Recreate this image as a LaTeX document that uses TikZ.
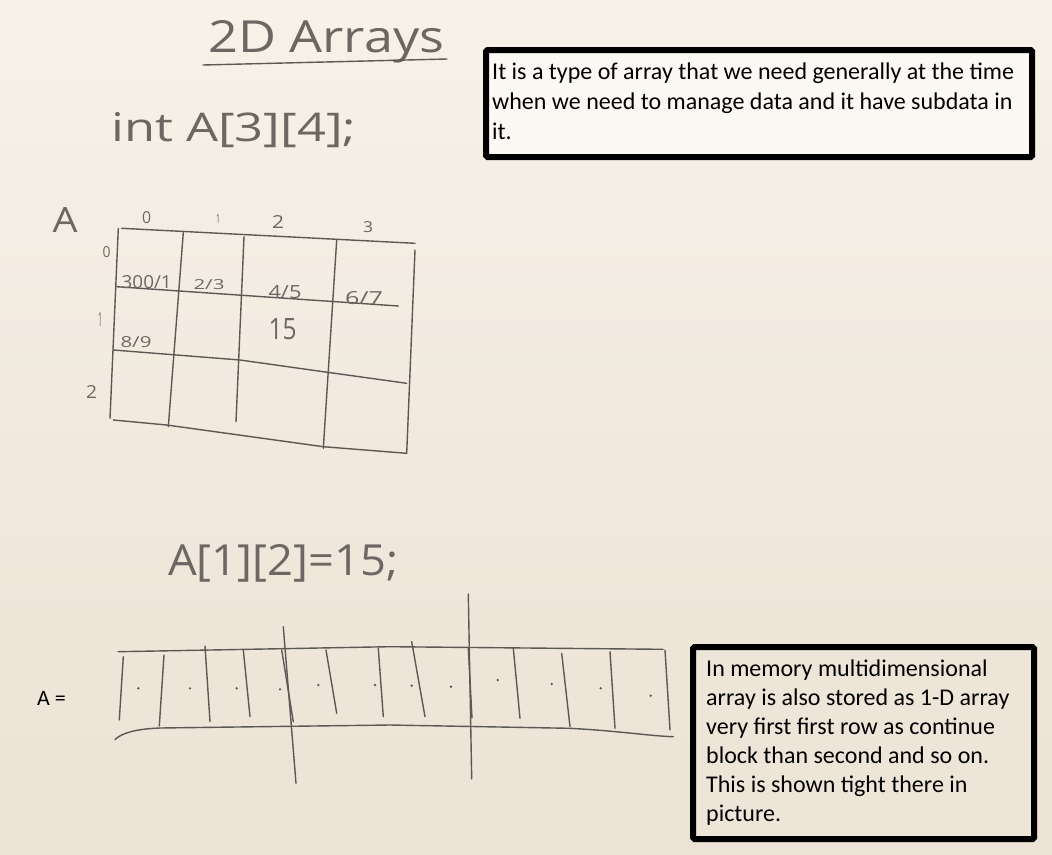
\documentclass[tikz,border=0pt]{standalone}
\usepackage{fontspec}
\setmainfont{Carlito}
\newfontfamily\handfont{Open Sans}

\definecolor{boardtop}{HTML}{F7F1E8}
\definecolor{boardbot}{HTML}{ECE2D5}
\definecolor{ink}{HTML}{5C5854}
\definecolor{handink}{HTML}{6C6762}
\definecolor{notefillA}{HTML}{FCF9F5}
\definecolor{notefillB}{HTML}{EEE5D9}

% marker lettering squeezed into a given width and height
\newcommand\handtext[3]{\resizebox{#1}{#2}{\handfont #3}}

\begin{document}
\begin{tikzpicture}[x=1pt,y=-1pt,
  pen/.style={draw=ink, line width=1.4pt, line cap=round, line join=round},
  hand/.style={inner sep=0pt, text=handink},
  notebox/.style={draw=black, line width=6pt, inner sep=0pt, rounded corners=1.5pt},
  notetext/.style={inner sep=0pt, align=left, anchor=north west},
  dotmark/.style={fill=ink, draw=none, circle, inner sep=0pt, minimum size=2.6pt}]

% whiteboard
\fill[top color=boardtop, bottom color=boardbot] (0,0) rectangle (1052,854);
\useasboundingbox (0,0) rectangle (1052,854);

% heading and declaration
\node[hand, anchor=base west] (title) at (208,52) {\handtext{236pt}{32pt}{2D Arrays}};
\draw[pen] (203,65) -- (447,59);
\node[hand, anchor=base west] (decl) at (111,141) {\handtext{245pt}{29pt}{int A[3][4];}};

% the 3x4 table
\node[hand] (arrname) at (65,220) {\handtext{25pt}{25pt}{A}};
\node[hand] (c0) at (146.7,217.5) {\handtext{9pt}{12pt}{0}};
\node[hand] (c1) at (218,219) {\handtext{4pt}{9pt}{1}};
\node[hand] (c2) at (278,222) {\handtext{12pt}{13pt}{2}};
\node[hand] (c3) at (368,227) {\handtext{10pt}{11pt}{3}};
\node[hand] (r0) at (106.7,252.5) {\handtext{8pt}{11pt}{0}};
\node[hand] (r1) at (100,319) {\handtext{4pt}{14pt}{1}};
\node[hand] (r2) at (91.7,391.7) {\handtext{11pt}{13pt}{2}};

\draw[pen] (121.7,228.3) -- (415,243.3);
\draw[pen] (116.7,286.7) -- (398.3,306);
\draw[pen] (113.3,350) -- (240,360) -- (323.3,371.7) -- (406.7,383.3);
\draw[pen] (113.3,420) -- (166.7,425) -- (323.3,446.7) -- (406.7,453.3);
\draw[pen] (118.3,228.3) -- (110,418.3);
\draw[pen] (183.3,232.7) -- (168.3,426.7);
\draw[pen] (244,236.7) -- (236,421.7);
\draw[pen] (336.7,240) -- (323.3,448.3);
\draw[pen] (415,250) -- (406.7,453.3);

\node[hand] (v00) at (146.7,281.7) {\handtext{50pt}{13pt}{300/1}};
\node[hand] (v01) at (209,285) {\handtext{31pt}{10pt}{2/3}};
\node[hand] (v02) at (285,291.7) {\handtext{33pt}{13pt}{4/5}};
\node[hand] (v03) at (364,298) {\handtext{38pt}{13pt}{6/7}};
\node[hand] (v10) at (136,342.5) {\handtext{31pt}{11pt}{8/9}};
\node[hand] (v12) at (282.5,329) {\handtext{28pt}{21pt}{15}};

% assignment
\node[hand, anchor=base west] (assign) at (168,575) {\handtext{230pt}{31pt}{A[1][2]=15;}};

% row-major strip
\node[anchor=base west, inner sep=0pt, font=\fontsize{22}{26}\selectfont] (stripname) at (37,705) {A =};
\draw[pen] (118,651.7) -- (390,646.7) -- (663,649.3);
\draw[pen] (115,739.5) .. controls (122,733) and (135,729) .. (160,728) -- (390,725) -- (570,728.3) .. controls (620,731) and (650,736) .. (673.3,736.7);
\foreach \xa/\ya/\xb/\yb in {123.3/656.7/119.3/720, 164/655/159.3/726, 205/646/210/721.7,
  243.3/650/250/716.7, 281.7/650/293.3/721.7, 326/650/336.7/713.3, 378.3/648.3/383.3/716.7,
  411.7/641.7/425/716.7, 468.3/648/472/718, 513.3/648.3/520/718.3, 561.7/653.3/570/726.7,
  610/651.7/615/728.3, 665/650/670/730}
  \draw[pen] (\xa,\ya) -- (\xb,\yb);
\draw[pen] (283.3,626.7) -- (296,783.3);
\draw[pen] (468.3,594) -- (471.7,779);
\foreach \px/\py [count=\k] in {138.3/688.3, 190/688.3, 236.7/688.3, 280/689.3, 318.3/685, 375/685,
  411.7/685.7, 451/686.7, 497.7/680, 551.7/684, 600.7/688.3, 650.7/695.7}
  \node[dotmark] (cell\k) at (\px,\py) {};

% notes
\node[notebox, fill=notefillA, minimum width=546pt, minimum height=107pt, anchor=north west] (topnote) at (483,47) {};
\node[notetext, font=\fontsize{24}{29.8}\selectfont] (toptext) at (492,63)
  {It is a type of array that we need generally at the time\\
   when we need to manage data and it have subdata in\\
   it.};
\node[notebox, fill=notefillB, minimum width=341pt, minimum height=192pt, anchor=north west] (botnote) at (690,644) {};
\node[notetext, font=\fontsize{24}{29}\selectfont] (bottext) at (706,660)
  {In memory multidimensional\\
   array is also stored as 1-D array\\
   very first first row as continue\\
   block than second and so on.\\
   This is shown tight there in\\
   picture.};
\end{tikzpicture}
\end{document}
